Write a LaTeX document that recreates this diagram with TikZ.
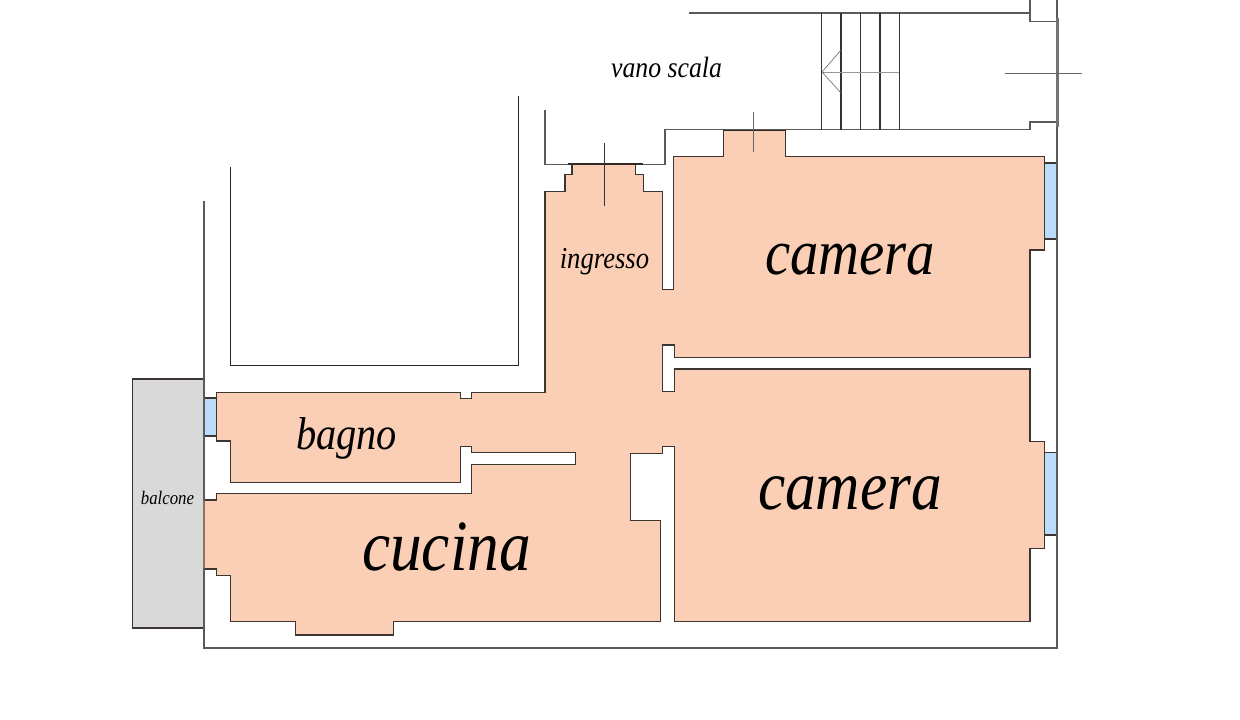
\documentclass[tikz,border=0pt]{standalone}
\usepackage{fontspec}
\setmainfont{Liberation Serif}
\definecolor{roomfill}{HTML}{FBCFB6}
\definecolor{glassfill}{HTML}{BBDCFB}
\definecolor{balconyfill}{HTML}{D9D9D9}
\definecolor{wallline}{HTML}{3C3532}
\definecolor{shellline}{HTML}{5A5A5A}
\tikzset{
  room/.style={fill=roomfill,draw=wallline,line width=1.15pt,line join=miter},
  glass/.style={fill=glassfill,draw=wallline,line width=0.8pt},
  balconyshape/.style={fill=balconyfill,draw=wallline,line width=1.1pt},
  shell/.style={draw=shellline,line width=1.1pt,line join=miter},
  inner/.style={draw=black!85,line width=1pt,line join=miter},
  tread/.style={draw=black!80,line width=1.05pt},
  hair/.style={draw=black!60,line width=0.45pt},
  doorleaf/.style={draw=black!55,line width=1.8pt},
  lab/.style={inner sep=0pt,anchor=base,text=black,transform shape,yscale=1.14},
}
\begin{document}
\begin{tikzpicture}[x=0.75pt,y=-0.75pt]
\useasboundingbox (0,0) rectangle (1240,720);
% balcony
\path[balconyshape] (132.5,379) rectangle (204,628);
% windows
\path[glass] (204,398) rectangle (216.5,436);
\path[glass] (1044.7,163) rectangle (1057,239);
\path[glass] (1044.7,452.7) rectangle (1057,535);
% apartment floor
\path[room] (572,164) -- (572,174.7) -- (565,174.7) -- (565,191.3) -- (545,191.3) -- (545,392.3)
 -- (471.7,392.3) -- (471.7,398.3) -- (460.7,398.3) -- (460.7,392.3) -- (216.5,392.3) -- (216.5,441)
 -- (230.7,441) -- (230.7,482.3) -- (460.7,482.3) -- (460.7,446.7) -- (471.7,446.7) -- (471.7,452.7)
 -- (575.3,452.7) -- (575.3,464.3) -- (471.7,464.3) -- (471.7,493.3) -- (216.5,493.3) -- (216.5,500)
 -- (204,500) -- (204,569) -- (216.5,569) -- (216.5,575.7) -- (230.7,575.7) -- (230.7,621.7)
 -- (295.7,621.7) -- (295.7,635) -- (393.7,635) -- (393.7,621.7) -- (660.7,621.7) -- (660.7,520.7)
 -- (630.7,520.7) -- (630.7,453.3) -- (662.3,453.3) -- (662.3,446.7) -- (674.3,446.7) -- (674.3,621.7)
 -- (1030,621.7) -- (1030,548.3) -- (1044.7,548.3) -- (1044.7,441.7) -- (1030,441.7) -- (1030,369)
 -- (674.3,369) -- (674.3,391.7) -- (662.3,391.7) -- (662.3,345) -- (674.3,345) -- (674.3,357.3)
 -- (1030,357.3) -- (1030,250) -- (1044.7,250) -- (1044.7,156.3) -- (785.7,156.3) -- (785.7,130.7)
 -- (723.3,130.7) -- (723.3,156.3) -- (673.7,156.3) -- (673.7,289.7) -- (662.3,289.7) -- (662.3,191.3)
 -- (643.3,191.3) -- (643.3,174.7) -- (635.7,174.7) -- (635.7,164) -- cycle;
% outer shell
\draw[shell] (204,201) -- (204,648) -- (1057,648) -- (1057,122) -- (1030,122) -- (1030,129.7)
 -- (665,129.7) -- (665,164.7) -- (545,164.7) -- (545,110);
\draw[shell] (689,13) -- (1030,13) -- (1030,21.7) -- (1057,21.7) -- (1057,0);
\draw[shell] (1030,13) -- (1030,0);
% open side of the kitchen: lighter edge
\draw[draw=roomfill!55!black,line width=1.05pt] (204,500.6) -- (204,568.4);
% inner courtyard
\draw[inner] (230.7,167) -- (230.7,365.5) -- (518.5,365.5) -- (518.5,96);
% entrance thresholds
\draw[black!80!roomfill,line width=1.3pt] (568,163.8) -- (643,163.8);
\draw[black!80!roomfill,line width=1.3pt] (723.3,130.6) -- (785.7,130.6);
% stairs
\foreach \tx in {821.7,841,860.7,880,899.5} \draw[tread] (\tx,13) -- (\tx,129.7);
\draw[hair,draw=black!40] (899,72) -- (822,72);
\draw[hair] (841,50) -- (822,72) -- (841,93);
% door marks
\draw[hair,draw=black!80] (604,143) -- (604,206);
\draw[hair] (753.5,112) -- (753.5,152);
\draw[doorleaf] (1057.5,18) -- (1057.5,127);
\draw[hair] (1005,73) -- (1082,73);
% labels
\node[lab,font=\itshape\fontsize{19.3}{20}\selectfont] (stairlabel) at (666.5,77.5) {vano scala};
\node[lab,font=\itshape\fontsize{20}{20}\selectfont] (hall) at (604.5,268.5) {ingresso};
\node[lab,font=\itshape\fontsize{42.5}{42}\selectfont] (bedroomA) at (850,274.5) {camera};
\node[lab,font=\itshape\fontsize{46}{46}\selectfont] (bedroomB) at (850,509) {camera};
\node[lab,font=\itshape\fontsize{30.3}{30}\selectfont] (bath) at (346.5,450) {bagno};
\node[lab,font=\itshape\fontsize{47.5}{47}\selectfont] (kitchen) at (446.5,570.5) {cucina};
\node[lab,font=\itshape\fontsize{12.6}{13}\selectfont] (balc) at (167.5,504.5) {balcone};
\end{tikzpicture}
\end{document}
